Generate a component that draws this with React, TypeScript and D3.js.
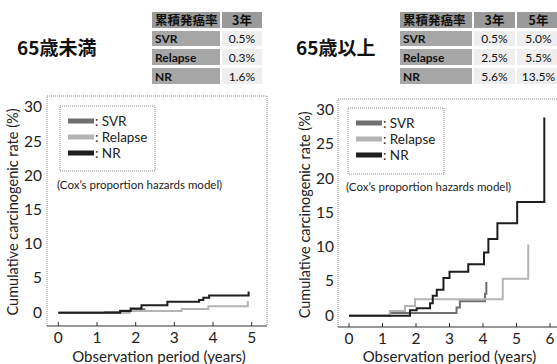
import React, { useRef, useEffect } from 'react';
import * as d3 from 'd3';

type Pt = [number, number];

// [years, cumulative %] - step points
const svrUnder: Pt[] = [[0, 0], [1.2, 0.1], [1.6, 0.3], [1.9, 0.5], [2.25, 0.5]];
const relapseUnder: Pt[] = [[0, 0], [1.85, 0.25], [3.19, 0.55], [3.88, 0.95], [4.9, 0.95], [4.9, 1.7]];
const nrUnder: Pt[] = [[0, 0], [1.6, 0.25], [1.87, 0.6], [2.15, 1.1], [2.82, 1.6], [3.64, 1.85], [3.75, 2.2], [3.9, 2.5], [4.92, 2.5], [4.92, 3.1]];

const svrOver: Pt[] = [[0, 0], [1.22, 0.4], [3.21, 1.2], [3.31, 2.1], [4.06, 3.2], [4.1, 4.9]];
const relapseOver: Pt[] = [[0, 0], [1.22, 0.7], [1.67, 1.4], [1.97, 2.4], [4.59, 5.4], [5.35, 5.4], [5.35, 10.4]];
const nrOver: Pt[] = [[0, 0], [1.82, 0.8], [2.02, 1.1], [2.42, 1.8], [2.5, 2.9], [2.62, 3.8], [2.82, 5.5], [3.0, 6.4], [3.56, 7.5], [4.03, 9.2], [4.16, 11.2], [4.43, 13.5], [5.02, 16.6], [5.83, 16.6], [5.83, 28.9]];

const yTicks = [0, 5, 10, 15, 20, 25, 30];
const seriesNames = ['SVR', 'Relapse', 'NR'];
const seriesColors = ['#6f6f6f', '#b4b4b4', '#1e1e1e'];

const tableHeadUnder = ['累積発癌率', '3年'];
const tableRowsUnder = [['SVR', '0.5%'], ['Relapse', '0.3%'], ['NR', '1.6%']];
const tableHeadOver = ['累積発癌率', '3年', '5年'];
const tableRowsOver = [['SVR', '0.5%', '5.0%'], ['Relapse', '2.5%', '5.5%'], ['NR', '5.6%', '13.5%']];

const FONT = 'Lato, "Open Sans", sans-serif';
const JP = '"Noto Sans CJK JP", sans-serif';

interface PanelOpts {
  title: string;
  titleX: number;
  head: string[];
  rows: string[][];
  cols: [number, number][];
  series: Pt[][];
  xMax: number;
  xRange: [number, number];
  yRange: [number, number];
  frame: { x0: number; x1: number; y0: number; y1: number };
  yLabelX: number;
  yTitleX: number;
  legend: { x: number; y: number; w: number; h: number };
  coxX: number;
  coxY: number;
}

function drawPanel(svg: d3.Selection<SVGSVGElement, unknown, null, undefined>, o: PanelOpts) {
  const g = svg.append('g');
  const x = d3.scaleLinear().domain([0, o.xMax]).range(o.xRange);
  const y = d3.scaleLinear().domain([0, 30]).range(o.yRange);

  // title
  g.append('text').attr('x', o.titleX).attr('y', 55).attr('font-family', JP)
    .attr('font-weight', 'bold').attr('font-size', 19).attr('fill', '#111').text(o.title);

  // table
  const rowY: [number, number][] = [[12, 28], [31, 46], [49, 65], [68, 84]];
  [o.head, ...o.rows].forEach((row, ri) => {
    row.forEach((cell, ci) => {
      const [cx0, cx1] = o.cols[ci];
      const [ry0, ry1] = rowY[ri];
      const fill = ri === 0 ? '#9a9a9a' : ci === 0 ? '#a6a6a6' : '#eeeeee';
      g.append('rect').attr('x', cx0).attr('y', ry0).attr('width', cx1 - cx0).attr('height', ry1 - ry0).attr('fill', fill);
      const isLabel = ri === 0 || ci === 0;
      g.append('text')
        .attr('x', ci === 0 ? cx0 + 3 : (cx0 + cx1) / 2)
        .attr('y', (ry0 + ry1) / 2 + 4.5)
        .attr('text-anchor', ci === 0 ? 'start' : 'middle')
        .attr('font-family', ri === 0 ? JP : FONT)
        .attr('font-weight', isLabel ? 'bold' : 'normal')
        .attr('font-size', ri === 0 ? 12.5 : 12)
        .attr('fill', '#111')
        .text(cell);
    });
  });

  // frame
  const f = o.frame;
  g.append('path').attr('d', `M${f.x0},${f.y1}V${f.y0}H${f.x1}V${f.y1}`)
    .attr('fill', 'none').attr('stroke', '#888').attr('stroke-width', 1).attr('stroke-dasharray', '1,1');
  g.append('line').attr('x1', f.x0).attr('x2', f.x1).attr('y1', f.y1).attr('y2', f.y1)
    .attr('stroke', '#333').attr('stroke-width', 1.2);
  // x ticks pointing up
  d3.range(0, o.xMax + 1).forEach((t) => {
    g.append('line').attr('x1', x(t)).attr('x2', x(t)).attr('y1', f.y1).attr('y2', f.y1 - 4)
      .attr('stroke', '#333').attr('stroke-width', 1);
    g.append('text').attr('x', x(t)).attr('y', f.y1 + 17).attr('text-anchor', 'middle')
      .attr('font-family', FONT).attr('font-size', 15.5).attr('fill', '#222').text(t);
  });
  yTicks.forEach((t) => {
    g.append('text').attr('x', o.yLabelX).attr('y', y(t) + 5).attr('text-anchor', 'end')
      .attr('font-family', FONT).attr('font-size', 15.5).attr('fill', '#222').text(t);
  });
  g.append('text').attr('transform', `translate(${o.yTitleX},${(o.yRange[0] + o.yRange[1]) / 2 + 2}) rotate(-90)`)
    .attr('text-anchor', 'middle').attr('font-family', FONT).attr('font-size', 14.5).attr('fill', '#222')
    .text('Cumulative carcinogenic rate (%)');
  g.append('text').attr('x', (f.x0 + Math.min(f.x1, 557)) / 2 + 2).attr('y', 362).attr('text-anchor', 'middle')
    .attr('font-family', FONT).attr('font-size', 15).attr('fill', '#222').text('Observation period (years)');

  // curves
  const line = d3.line<Pt>().x((d) => x(d[0])).y((d) => y(d[1])).curve(d3.curveStepAfter);
  o.series.forEach((s, i) => {
    g.append('path').datum(s).attr('d', line).attr('fill', 'none')
      .attr('stroke', seriesColors[i]).attr('stroke-width', 2);
  });

  // legend
  const L = o.legend;
  g.append('rect').attr('x', L.x).attr('y', L.y).attr('width', L.w).attr('height', L.h)
    .attr('fill', 'white').attr('stroke', '#888').attr('stroke-dasharray', '1,1');
  seriesNames.forEach((name, i) => {
    const cy = L.y + 15 + i * 16;
    g.append('rect').attr('x', L.x + 8).attr('y', cy - 2.5).attr('width', 26).attr('height', 5)
      .attr('fill', seriesColors[i]);
    g.append('text').attr('x', L.x + 35).attr('y', cy + 5).attr('font-family', FONT)
      .attr('font-size', 13.5).attr('fill', '#222').text(`: ${name}`);
  });
  g.append('text').attr('x', o.coxX).attr('y', o.coxY).attr('font-family', FONT)
    .attr('font-size', 11.5).attr('fill', '#222').text('(Cox\u2019s proportion hazards model)');
}

export default function App() {
  const ref = useRef<SVGSVGElement | null>(null);

  useEffect(() => {
    if (!ref.current) return;
    const svg = d3.select(ref.current);
    svg.selectAll('*').remove();

    drawPanel(svg, {
      title: '65歳未満', titleX: 17,
      head: tableHeadUnder, rows: tableRowsUnder,
      cols: [[152, 220], [222, 262]],
      series: [svrUnder, relapseUnder, nrUnder],
      xMax: 5, xRange: [58.3, 251.7], yRange: [312.7, 107.3],
      frame: { x0: 47, x1: 267, y0: 96, y1: 326 },
      yLabelX: 42, yTitleX: 18,
      legend: { x: 60, y: 106, w: 95, h: 65 },
      coxX: 57, coxY: 189,
    });

    drawPanel(svg, {
      title: '65歳以上', titleX: 296,
      head: tableHeadOver, rows: tableRowsOver,
      cols: [[400, 472], [474, 515], [517, 560]],
      series: [svrOver, relapseOver, nrOver],
      xMax: 6, xRange: [349, 550], yRange: [315.7, 110],
      frame: { x0: 338, x1: 560, y0: 99, y1: 327 },
      yLabelX: 334, yTitleX: 310,
      legend: { x: 348, y: 108, w: 96, h: 66 },
      coxX: 346, coxY: 191,
    });
  }, []);

  return (
    <svg ref={ref} width={557} height={364}
      style={{ position: 'absolute', left: 0, top: 0, background: 'white' }} />
  );
}
